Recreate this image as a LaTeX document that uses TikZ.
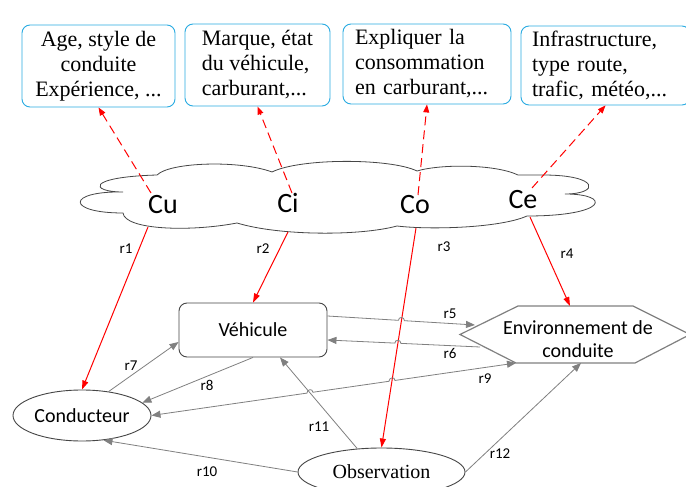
\documentclass[tikz,border=0pt]{standalone}
\usepackage{fontspec}
\setmainfont{Liberation Serif}
\newfontfamily\calfont{Carlito}
\usetikzlibrary{arrows.meta,calc,intersections,shapes.geometric}
\definecolor{boxblue}{RGB}{41,171,226}
\definecolor{lgray}{RGB}{128,128,128}
\definecolor{dgray}{RGB}{70,70,70}
\definecolor{myred}{RGB}{255,0,0}
\begin{document}
\begin{tikzpicture}[x=1pt,y=-1pt,
  infobox/.style={draw=boxblue,line width=0.9pt,rounded corners=8pt,minimum height=82pt,inner sep=0pt,font=\fontsize{22}{25}\selectfont},
  cloudlbl/.style={font=\calfont\fontsize{28}{30}\selectfont,inner sep=0pt,anchor=base},
  rlbl/.style={font=\calfont\fontsize{15}{16}\selectfont,inner sep=0pt},
  grayline/.style={draw=lgray,line width=0.8pt},
  garrow/.style={grayline,-{Triangle[length=9pt,width=7pt]}},
  rarrow/.style={draw=myred,line width=1pt,-{Triangle[length=9pt,width=6pt]}},
  rdash/.style={draw=myred,line width=1pt,dash pattern=on 9pt off 5pt,-{Triangle[length=8pt,width=6pt]}},
  mainnode/.style={draw=dgray,line width=0.9pt,inner sep=0pt},
]
\fill[white] (0,0) rectangle (686,487);
\useasboundingbox (0,0) rectangle (686,487);

% info boxes
\node[infobox,minimum width=153pt,align=center] (b1) at (98.5,66) {Age, style de\\conduite\\Expérience, ...};
\node[infobox,minimum width=145pt,align=left] (b2) at (257.5,65) {Marque, état\\du véhicule,\\carburant,...};
\node[infobox,minimum height=80pt,inner xsep=12pt,text width=144pt,align=left] (b3) at (427,64) {Expliquer la\\consommation\\en carburant,...};
\node[infobox,minimum height=79pt,inner xsep=11pt,text width=147pt,align=left] (b4) at (605.5,65.5) {Infrastructure,\\type route,\\trafic, météo,...};

% cloud
\draw[dgray,line width=0.8pt] (123,192) .. controls (90,192) and (85,177) .. (157,175)
  .. controls (170,162) and (240,160) .. (272,172)
  .. controls (300,158) and (390,158) .. (417,171)
  .. controls (440,164) and (495,164) .. (518,175)
  -- (543,175)
  .. controls (600,175) and (600,194) .. (565,194)
  .. controls (612,194) and (608,216) .. (527,216)
  .. controls (500,228) and (430,230) .. (397,226)
  .. controls (360,236) and (280,236) .. (237,223)
  .. controls (190,232) and (125,230) .. (123,213)
  .. controls (66,213) and (66,191) .. cycle;

\node[cloudlbl] (Cu) at (163,213) {Cu};
\node[cloudlbl] (Ci) at (288,212) {Ci};
\node[cloudlbl] (Co) at (415,213) {Co};
\node[cloudlbl] (Ce) at (523,208) {Ce};

\coordinate (du) at (151,193);
\coordinate (di) at (292,193);
\coordinate (do) at (418,195);
\coordinate (de) at (532,188);
\coordinate (su) at (148,227);
\coordinate (si) at (288,232);
\coordinate (so) at (416,228);
\coordinate (se) at (530,217);

% main nodes
\node[mainnode,rounded corners=8pt,minimum width=148pt,minimum height=54pt,font=\calfont\fontsize{20}{24}\selectfont] (veh) at (253,330) {Véhicule};
\node[mainnode,ellipse,minimum width=138pt,minimum height=51pt,font=\calfont\fontsize{20}{24}\selectfont] (cond) at (82,415.5) {Conducteur};
\node[mainnode,ellipse,minimum width=167pt,minimum height=48pt,font=\fontsize{20}{24}\selectfont] (obs) at (381.5,472) {Observation};

% hexagon
\coordinate (hW) at (460,334.5);
\coordinate (hTL) at (518,306);
\coordinate (hTR) at (633,306);
\coordinate (hE) at (690,334.5);
\coordinate (hBR) at (635,363);
\coordinate (hBL) at (516,363);
\draw[lgray,line width=1.2pt] (hW) -- (hTL) -- (hTR) -- (hE) -- (hBR) -- (hBL) -- cycle;
\node[font=\calfont\fontsize{20}{23}\selectfont,align=center,inner sep=0pt] (env) at (578,339) {Environnement de\\conduite};
\coordinate (h4) at (570,306);
\coordinate (h5) at (475,325);
\coordinate (h6) at (480,347);
\coordinate (h12) at (581,363);

% dashed red
\draw[rdash] (du) -- (b1.south);
\draw[rdash] (di) -- (b2.south);
\draw[rdash] (do) -- (b3.south);
\draw[rdash] (de) -- (b4.south);

% solid red
\draw[rarrow] (su) -- (cond.north);
\draw[rarrow] (si) -- (veh.north);
\draw[rarrow,name path=pr3] (so) -- (obs.north);
\draw[rarrow] (se) -- (h4);

% gray connectors
\coordinate (v5) at ([yshift=14pt]veh.east);
\coordinate (v6) at ([yshift=-10pt]veh.east);
\coordinate (v7) at ([yshift=-12pt]veh.west);
\coordinate (v11) at ([xshift=27pt]veh.south);

\path[name path=p5] (v5) -- (h5);
\path[name path=p6] (h6) -- (v6);
\path[name path=p9] (cond.east) -- (hBL);
\path[name path=p11] (obs.136) -- (v11);
\path[name intersections={of=pr3 and p5,by=x5}];
\path[name intersections={of=pr3 and p6,by=x6}];
\path[name intersections={of=pr3 and p9,by=x9a}];
\path[name intersections={of=p11 and p9,by=x9b}];

\draw[garrow] (v5) -- ($(x5)!3pt!(v5)$) .. controls +(0,-4) and +(0,-4) .. ($(x5)!3pt!(h5)$) -- (h5);
\draw[garrow] (h6) -- ($(x6)!3pt!(h6)$) .. controls +(0,-4) and +(0,-4) .. ($(x6)!3pt!(v6)$) -- (v6);
\draw[grayline,{Triangle[length=9pt,width=7pt]}-{Triangle[length=9pt,width=7pt]}] (cond.east) -- ($(x9b)!3pt!(cond.east)$) .. controls +(0,-4) and +(0,-4) .. ($(x9b)!3pt!(hBL)$) -- ($(x9a)!3pt!(cond.east)$) .. controls +(0,-4) and +(0,-4) .. ($(x9a)!3pt!(hBL)$) -- (hBL);
\draw[garrow] (cond.42) -- (v7);
\draw[garrow] (veh.south) -- (cond.12);
\draw[garrow] (obs.west) -- (cond.-49);
\draw[garrow] (obs.136) -- (v11);
\draw[garrow] (obs.east) -- (h12);

% labels
\node[rlbl] (l1) at (126,249) {r1};
\node[rlbl] (l2) at (263,249) {r2};
\node[rlbl] (l3) at (444,247) {r3};
\node[rlbl] (l4) at (567,254) {r4};
\node[rlbl] (l5) at (450,314) {r5};
\node[rlbl] (l6) at (450,353) {r6};
\node[rlbl] (l7) at (131,366) {r7};
\node[rlbl] (l8) at (207,385) {r8};
\node[rlbl] (l9) at (485,379) {r9};
\node[rlbl] (l10) at (207,472) {r10};
\node[rlbl] (l11) at (319,427) {r11};
\node[rlbl] (l12) at (500,454) {r12};
\end{tikzpicture}
\end{document}
